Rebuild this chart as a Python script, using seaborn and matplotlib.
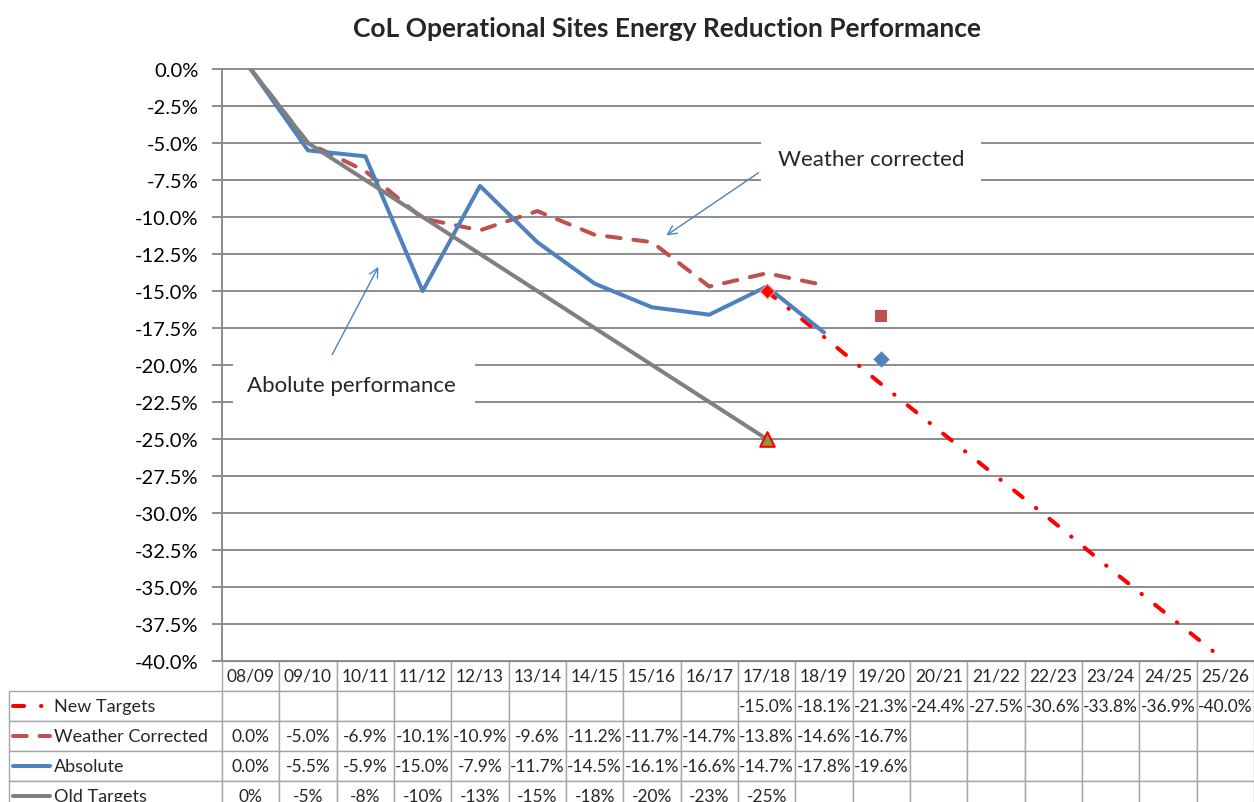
import numpy as np
import pandas as pd
import matplotlib
matplotlib.use("Agg")
import matplotlib.pyplot as plt
from matplotlib.lines import Line2D
from matplotlib.patches import Rectangle
from matplotlib.table import Table
import seaborn as sns

years = ["08/09", "09/10", "10/11", "11/12", "12/13", "13/14", "14/15", "15/16", "16/17",
         "17/18", "18/19", "19/20", "20/21", "21/22", "22/23", "23/24", "24/25", "25/26"]
new_targets = [np.nan, np.nan, np.nan, np.nan, np.nan, np.nan, np.nan, np.nan, np.nan,
               -15.0, -18.1, -21.3, -24.4, -27.5, -30.6, -33.8, -36.9, -40.0]
weather_corrected = [0.0, -5.0, -6.9, -10.1, -10.9, -9.6, -11.2, -11.7, -14.7, -13.8, -14.6, -16.7]
absolute = [0.0, -5.5, -5.9, -15.0, -7.9, -11.7, -14.5, -16.1, -16.6, -14.7, -17.8, -19.6]
old_targets = [0.0, -5.0, -7.5, -10.0, -12.5, -15.0, -17.5, -20.0, -22.5, -25.0]
row_names = ["New Targets", "Weather Corrected", "Absolute", "Old Targets"]

C_NEW = "#FF0000"
C_WEATHER = "#C0504D"
C_ABS = "#4F81BD"
C_OLD = "#808080"
C_GRID = "#8C8C8C"

W, H = 1254, 803
sns.set_theme(style="white")
plt.rcParams["font.family"] = ["Lato", "DejaVu Sans"]

fig = plt.figure(figsize=(W / 100, H / 100), dpi=100)
ax_left, ax_top, ax_bottom = 222, 70, 662
ax = fig.add_axes([ax_left / W, 1 - ax_bottom / H, (W - ax_left) / W, (ax_bottom - ax_top) / H])

pos = np.arange(len(years))
LW = 2.9
WEATHER_DASH = (3.4, 3.2)
NEW_DASH = (2.75, 4.2, 0.12, 4.2)

# New targets (dash-dot) with a diamond at the first point
nt = pd.DataFrame({"x": pos, "y": new_targets}).dropna()
sns.lineplot(data=nt, x="x", y="y", ax=ax, color=C_NEW, linewidth=LW)
ax.lines[-1].set_dashes(NEW_DASH)
ax.lines[-1].set_dash_capstyle("round")
sns.scatterplot(x=nt["x"].iloc[:1], y=nt["y"].iloc[:1], ax=ax, marker="D", s=55,
                color=C_NEW, edgecolor="#FF9999", linewidth=0.8, zorder=3)

# Weather corrected: dashed line to 18/19, square marker for 19/20
n = len(weather_corrected)
sns.lineplot(x=pos[:n - 1], y=weather_corrected[:n - 1], ax=ax, color=C_WEATHER, linewidth=LW)
ax.lines[-1].set_dashes(WEATHER_DASH)
ax.lines[-1].set_dash_capstyle("round")
sns.scatterplot(x=pos[n - 1:n], y=weather_corrected[n - 1:], ax=ax, marker="s", s=75,
                color=C_WEATHER, linewidth=0, zorder=3)

# Absolute: solid line to 18/19, diamond marker for 19/20
n = len(absolute)
sns.lineplot(x=pos[:n - 1], y=absolute[:n - 1], ax=ax, color=C_ABS, linewidth=LW)
sns.scatterplot(x=pos[n - 1:n], y=absolute[n - 1:], ax=ax, marker="D", s=70,
                color=C_ABS, linewidth=0, zorder=3)

# Old targets: grey line with triangle at the end
n = len(old_targets)
sns.lineplot(x=pos[:n], y=old_targets, ax=ax, color=C_OLD, linewidth=LW)
sns.scatterplot(x=pos[n - 1:n], y=old_targets[n - 1:], ax=ax, marker="^", s=110,
                color="#8A9A3A", edgecolor="#FF0000", linewidth=1.5, zorder=4)

ax.set_xlim(-0.5, len(years) - 0.5)
ax.set_ylim(-40, 0)
yt = np.arange(0, -42.5, -2.5)
ax.set_yticks(yt)
ax.set_yticklabels([f"{abs(v):.1f}%" if v == 0 else f"{v:.1f}%" for v in yt])
ax.set_xticks([])
ax.set_xlabel("")
ax.set_ylabel("")
ax.yaxis.grid(True, color=C_GRID, linewidth=1.4)
for gl in ax.get_ygridlines():
    gl.set_clip_on(False)
ax.set_axisbelow(True)
for s in ["top", "right", "bottom"]:
    ax.spines[s].set_visible(False)
ax.spines["left"].set_color(C_GRID)
ax.spines["left"].set_linewidth(1.4)
ax.tick_params(axis="y", left=True, length=7, width=1.4, color=C_GRID,
               labelsize=14.5, pad=10, labelcolor="black")

# text boxes (white, hiding gridlines) and arrows
ax.add_patch(Rectangle((8.9, -7.65), 3.84, 2.7, facecolor="white", edgecolor="none", zorder=1.5))
ax.text(10.82, -6.1, "Weather corrected", ha="center", va="center", fontsize=16, zorder=2)
ax.add_patch(Rectangle((-0.31, -22.65), 4.23, 2.75, facecolor="white", edgecolor="none", zorder=1.5))
ax.text(1.75, -21.35, "Abolute performance", ha="center", va="center", fontsize=16, zorder=2)
ax.annotate("", xy=(7.21, -11.35), xytext=(8.9, -6.9),
            arrowprops=dict(arrowstyle="->", color=C_ABS, lw=1.0, mutation_scale=16))
ax.annotate("", xy=(2.25, -13.2), xytext=(1.4, -19.46),
            arrowprops=dict(arrowstyle="->", color=C_ABS, lw=1.0, mutation_scale=16))


def excel_round(v):
    return int(np.sign(v) * np.floor(abs(v) + 0.5))


def fmt1(vals):
    out = [f"{v:.1f}%" if not np.isnan(v) else "" for v in vals]
    return out + [""] * (len(years) - len(out))


cell_text = [
    fmt1(new_targets),
    fmt1(weather_corrected),
    fmt1(absolute),
    [f"{excel_round(v)}%" for v in old_targets] + [""] * (len(years) - len(old_targets)),
]

# data table under the plot (header row + 4 series rows, last one cut off)
row_h = 30
table_rows = 5
tbl_h = row_h * table_rows / (ax_bottom - ax_top)
label_w = (ax_left - 9) / (W - ax_left)
col_w = 1.0 / len(years)
cell_h = tbl_h / table_rows
tbl = Table(ax, bbox=[0, -tbl_h, 1, tbl_h])
for c, yr in enumerate(years):
    tbl.add_cell(0, c, col_w, cell_h, text=yr, loc="center", edgecolor="#A6A6A6")
for r, row in enumerate(cell_text, start=1):
    tbl.add_cell(r, -1, label_w, cell_h, text="", edgecolor="#A6A6A6")
    for c, txt in enumerate(row):
        tbl.add_cell(r, c, col_w, cell_h, text=txt, loc="center", edgecolor="#A6A6A6")
tbl.auto_set_font_size(False)
tbl.set_fontsize(12.5)
tbl.set_clip_on(False)
ax.add_table(tbl)

# legend keys and names inside the row label cells
glyphs = [
    dict(color=C_NEW, dashes=NEW_DASH, x1=45),
    dict(color=C_WEATHER, dashes=WEATHER_DASH, x1=50),
    dict(color=C_ABS, dashes=None, x1=50),
    dict(color=C_OLD, dashes=None, x1=50),
]
for i, g in enumerate(glyphs):
    yc = 1 - (ax_bottom + row_h * (i + 1) + row_h / 2) / H
    ln = Line2D([13 / W, g["x1"] / W], [yc, yc], color=g["color"], linewidth=LW,
                transform=fig.transFigure)
    if g["dashes"] is not None:
        ln.set_dashes(g["dashes"])
        ln.set_dash_capstyle("round")
    fig.add_artist(ln)
    fig.text(54 / W, yc, row_names[i], ha="left", va="center", fontsize=13)

fig.text(667 / W, 1 - 29 / H, "CoL Operational Sites Energy Reduction Performance",
         ha="center", va="center", fontsize=19, fontweight="bold")

fig.savefig("out.png", dpi=100)
